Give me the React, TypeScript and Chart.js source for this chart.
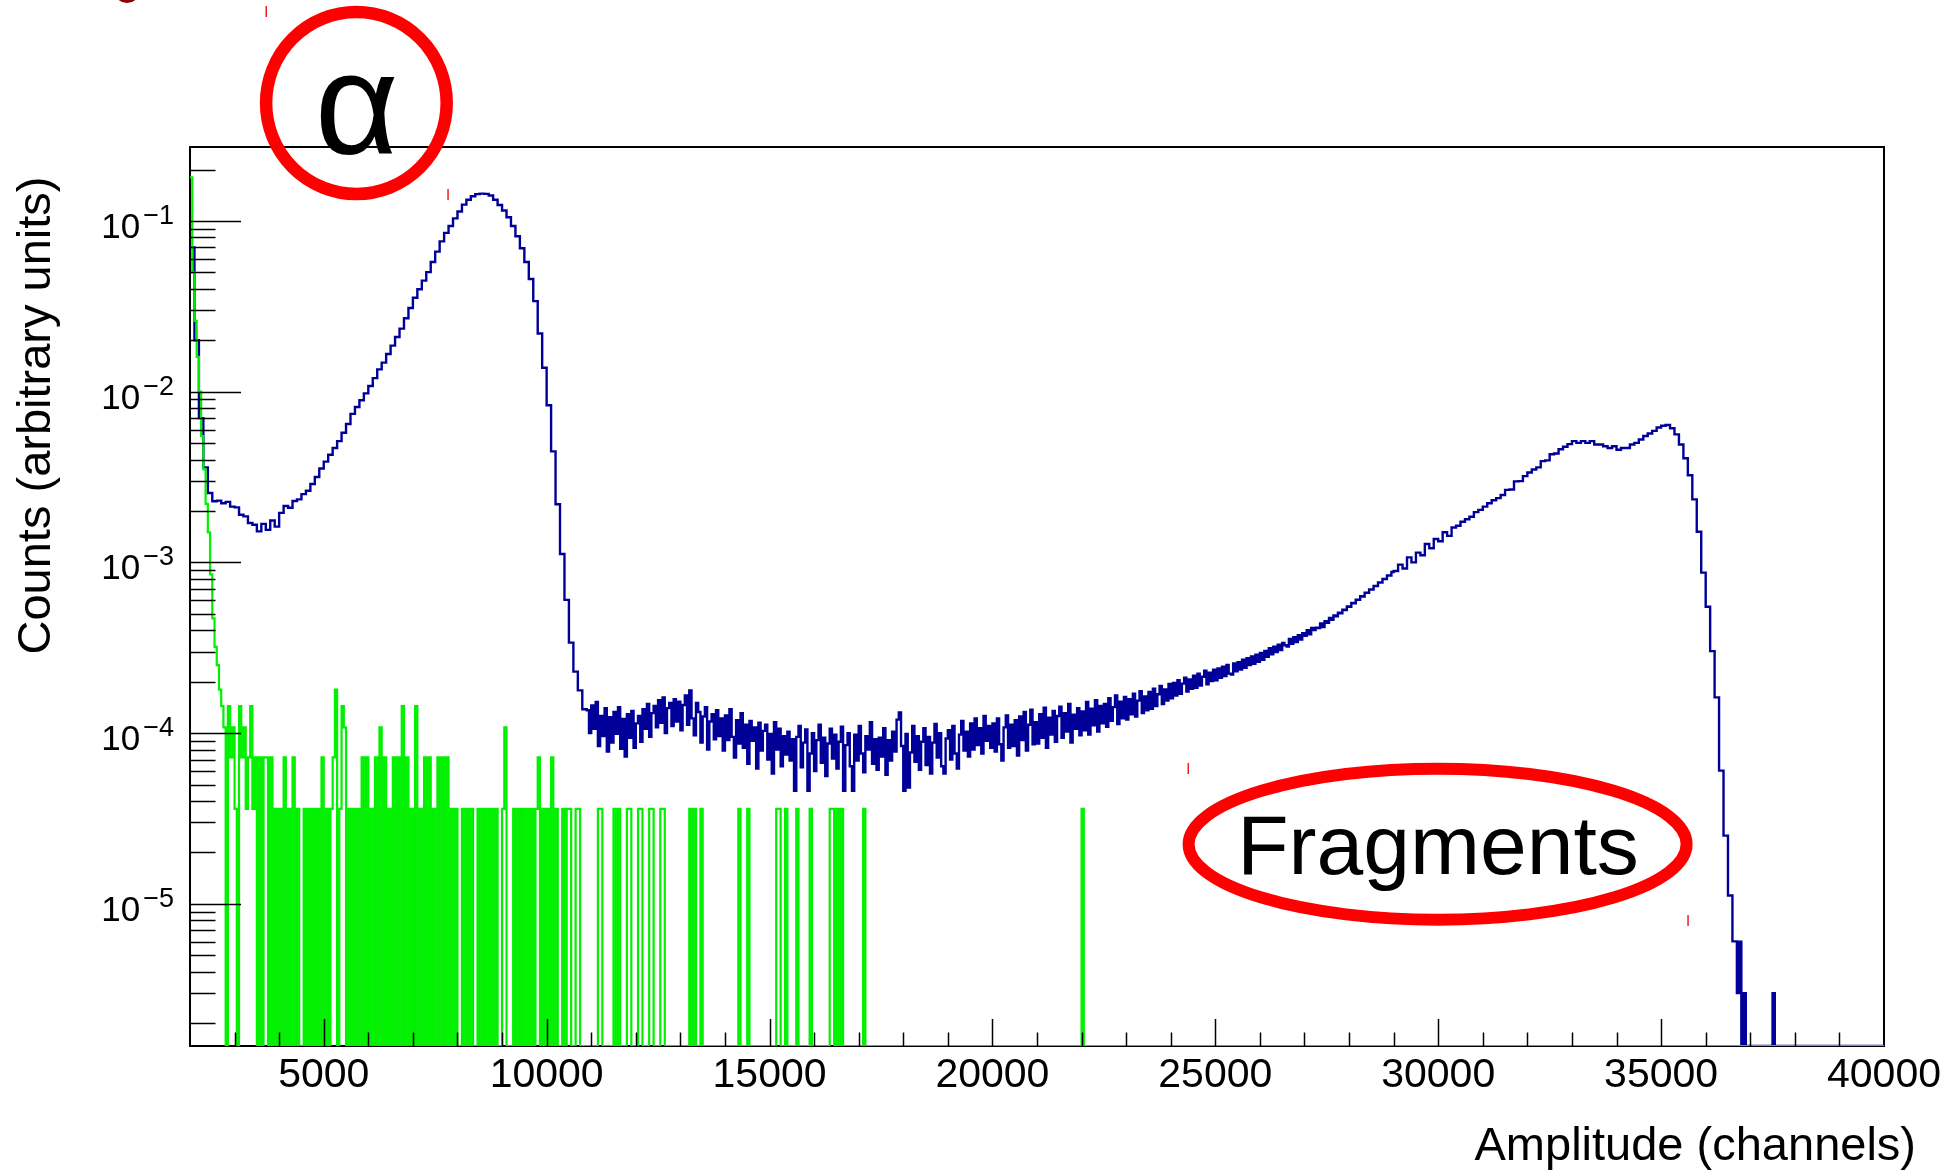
import { useEffect, useRef } from "react";
import { Chart, registerables } from "chart.js";

Chart.register(...registerables);

// ---- axis ranges ----
const X_MIN = 2000;
const X_MAX = 40000;
const Y_MIN = 1.47e-6;
const Y_MAX = 0.271;

// ---- tick definitions ----
const xMinorStep = 1000;
const xMajorStep = 5000;
const xTickLabels = [5000, 10000, 15000, 20000, 25000, 30000, 35000, 40000];
const yLabelPowers = [-5, -4, -3, -2, -1];

// ---- blue spectrum, stored per segment (first channel, bin width, contents) ----
const blueLowTail = [7.0e-2, 2.0e-2, 7.0e-3, 3.6e-3]; // 2000.., 100 ch bins
const blueValley = [ // 2400.., 100 ch bins
  2.55e-3, 2.28e-3, 2.3e-3, 2.22e-3, 2.26e-3, 2.12e-3, 2.1e-3, 1.9e-3, 1.86e-3, 1.7e-3,
  1.66e-3, 1.52e-3, 1.68e-3, 1.55e-3, 1.76e-3, 1.62e-3,
];
const blueAlphaRise = [ // 4000.., 100 ch bins
  1.95e-3, 2.14e-3, 2.09e-3, 2.29e-3, 2.34e-3, 2.51e-3, 2.63e-3, 2.88e-3, 3.16e-3, 3.55e-3,
  3.89e-3, 4.27e-3, 4.68e-3, 5.13e-3, 5.75e-3, 6.46e-3, 7.41e-3, 8.13e-3, 8.91e-3, 9.77e-3,
  1.08e-2, 1.2e-2, 1.35e-2, 1.48e-2, 1.66e-2, 1.86e-2, 2.09e-2, 2.34e-2, 2.69e-2, 3.09e-2,
  3.55e-2, 3.98e-2, 4.47e-2, 5.01e-2, 5.75e-2, 6.61e-2, 7.59e-2, 8.51e-2, 9.33e-2, 0.1035,
  0.1135, 0.1245, 0.133, 0.1396, 0.1435, 0.1445, 0.144, 0.141,
];
const blueAlphaFall = [ // 8800.., 100 ch bins
  0.133, 0.124, 0.115, 0.105, 9.33e-2, 8.13e-2, 6.92e-2, 5.75e-2, 4.57e-2, 3.39e-2,
  2.19e-2, 1.38e-2, 8.32e-3, 4.47e-3, 2.19e-3, 1.12e-3, 6.03e-4, 3.39e-4, 2.29e-4, 1.78e-4,
  1.38e-4,
];
const bluePlateau = [ // 10900.., 50 ch bins
  1.36e-4, 1.0e-4, 1.45e-4, 1.06e-4, 1.52e-4, 8.4e-5, 1.26e-4, 9.6e-5, 1.4e-4, 7.8e-5,
  1.24e-4, 8.8e-5, 1.33e-4, 9.9e-5, 1.42e-4, 8.1e-5, 1.21e-4, 7.3e-5, 1.29e-4, 9.4e-5,
  1.35e-4, 8.2e-5, 1.14e-4, 1.26e-4, 8.9e-5, 1.38e-4, 1.06e-4, 1.48e-4, 9.5e-5, 1.31e-4,
  1.44e-4, 1.08e-4, 1.56e-4, 1.15e-4, 1.62e-4, 1.0e-4, 1.4e-4, 1.5e-4, 1.1e-4, 1.58e-4,
  1.17e-4, 1.53e-4, 1.04e-4, 1.46e-4, 1.66e-4, 1.12e-4, 1.78e-4, 1.22e-4, 9.7e-5, 1.5e-4,
  1.33e-4, 8.8e-5, 1.25e-4, 1.42e-4, 8.0e-5, 1.17e-4, 1.29e-4, 9.2e-5, 1.36e-4, 9.6e-5,
  1.22e-4, 7.9e-5, 1.27e-4, 9.1e-5, 1.38e-4, 9.5e-5, 7.2e-5, 1.19e-4, 8.7e-5, 1.31e-4,
  8.2e-5, 1.12e-4, 6.6e-5, 1.18e-4, 9.0e-5, 1.08e-4, 6.2e-5, 1.15e-4, 7.9e-5, 1.03e-4,
  1.12e-4, 7.0e-5, 9.9e-5, 5.8e-5, 1.16e-4, 8.0e-5, 1.06e-4, 6.4e-5, 9.6e-5, 7.5e-5,
  1.02e-4, 6.9e-5, 9.2e-5, 4.6e-5, 9.5e-5, 1.1e-4, 6.3e-5, 8.8e-5, 1.05e-4, 4.6e-5,
  7.6e-5, 1.0e-4, 6.0e-5, 9.1e-5, 1.12e-4, 6.7e-5, 9.4e-5, 5.6e-5, 8.7e-5, 1.06e-4,
  7.1e-5, 9.8e-5, 6.2e-5, 8.9e-5, 1.09e-4, 4.6e-5, 8.5e-5, 1.0e-4, 6.4e-5, 4.6e-5,
  9.8e-5, 6.9e-5, 1.1e-4, 7.6e-5, 5.9e-5, 9.6e-5, 8.0e-5, 1.16e-4, 6.6e-5, 9.2e-5,
  6.1e-5, 9.4e-5, 7.3e-5, 1.07e-4, 5.7e-5, 9.1e-5, 6.9e-5, 1.02e-4, 7.8e-5, 1.2e-4,
  1.32e-4, 8.4e-5, 4.6e-5, 9.9e-5, 4.8e-5, 7.7e-5, 1.1e-4, 6.8e-5, 9.6e-5, 6.1e-5,
  8.9e-5, 1.07e-4, 6.5e-5, 9.5e-5, 5.8e-5, 8.8e-5, 1.13e-4, 7.2e-5, 1.0e-4, 6.4e-5,
  5.8e-5, 9.3e-5, 1.04e-4, 7.0e-5, 1.1e-4, 7.6e-5, 6.2e-5, 9.8e-5, 1.18e-4, 7.9e-5,
  1.02e-4, 7.3e-5, 1.14e-4, 8.0e-5, 1.22e-4, 8.5e-5, 1.07e-4, 7.6e-5, 1.26e-4, 9.0e-5,
  1.1e-4, 8.2e-5,
];
const blueFragmentRise = [ // 20000.., 50 ch bins
  1.14e-4, 7.8e-5, 1.22e-4, 8.6e-5, 6.9e-5, 1.08e-4, 1.27e-4, 8.2e-5, 1.12e-4, 8.4e-5,
  1.19e-4, 7.4e-5, 1.25e-4, 9.1e-5, 1.33e-4, 7.9e-5, 1.12e-4, 1.37e-4, 8.6e-5, 1.16e-4,
  8.7e-5, 1.29e-4, 9.4e-5, 1.41e-4, 8.2e-5, 1.23e-4, 9.8e-5, 1.35e-4, 8.9e-5, 1.26e-4,
  1.43e-4, 9.4e-5, 1.31e-4, 1.02e-4, 1.48e-4, 8.8e-5, 1.28e-4, 1.06e-4, 1.4e-4, 9.7e-5,
  1.34e-4, 1.04e-4, 1.52e-4, 9.8e-5, 1.39e-4, 1.11e-4, 1.56e-4, 1.02e-4, 1.44e-4, 1.14e-4,
  1.48e-4, 1.09e-4, 1.6e-4, 1.18e-4, 1.42e-4, 1.66e-4, 1.13e-4, 1.53e-4, 1.22e-4, 1.63e-4,
  1.2e-4, 1.58e-4, 1.29e-4, 1.7e-4, 1.25e-4, 1.55e-4, 1.76e-4, 1.31e-4, 1.64e-4, 1.36e-4,
  1.74e-4, 1.39e-4, 1.82e-4, 1.44e-4, 1.69e-4, 1.89e-4, 1.48e-4, 1.8e-4, 1.55e-4, 1.94e-4,
  1.6e-4, 1.97e-4, 1.66e-4, 2.04e-4, 1.7e-4, 1.95e-4, 2.11e-4, 1.75e-4, 2.06e-4, 1.82e-4,
  2.17e-4, 1.84e-4, 2.23e-4, 1.9e-4, 2.14e-4, 2.32e-4, 1.93e-4, 2.26e-4, 2.02e-4, 2.35e-4,
  2.04e-4, 2.39e-4, 2.11e-4, 2.45e-4, 2.16e-4, 2.51e-4, 2.23e-4, 2.2e-4, 2.56e-4, 2.3e-4,
  2.6e-4, 2.36e-4, 2.69e-4, 2.41e-4, 2.75e-4, 2.5e-4, 2.81e-4, 2.55e-4, 2.88e-4, 2.62e-4,
  2.95e-4, 2.69e-4, 3.03e-4, 2.8e-4, 3.14e-4, 2.89e-4, 3.21e-4, 2.98e-4, 3.3e-4, 3.07e-4,
  3.37e-4, 3.27e-4, 3.21e-4, 3.56e-4, 3.33e-4, 3.64e-4, 3.42e-4, 3.75e-4, 3.53e-4, 3.85e-4,
  3.71e-4, 4.01e-4, 3.79e-4, 4.13e-4, 4.01e-4, 4.15e-4, 4.13e-4, 4.39e-4, 4.18e-4, 4.53e-4,
  4.43e-4, 4.72e-4, 4.61e-4, 4.88e-4, 4.83e-4, 5.07e-4, 5.04e-4, 5.29e-4, 5.26e-4, 5.51e-4,
  5.49e-4, 5.79e-4, 5.76e-4, 6.05e-4, 6.03e-4, 6.34e-4, 6.31e-4, 6.64e-4, 6.63e-4, 6.95e-4,
  6.93e-4, 7.27e-4, 7.26e-4, 7.63e-4, 7.61e-4, 7.99e-4, 7.98e-4, 8.38e-4, 8.38e-4, 8.79e-4,
];
const blueFragmentPeak = [ // 29000.., 100 ch bins
  8.91e-4, 9.7e-4, 9.2e-4, 1.07e-3, 1.0e-3, 1.14e-3, 1.1e-3, 1.28e-3, 1.21e-3, 1.37e-3,
  1.33e-3, 1.5e-3, 1.43e-3, 1.6e-3, 1.64e-3, 1.73e-3, 1.79e-3, 1.85e-3, 1.97e-3, 2.03e-3,
  2.12e-3, 2.22e-3, 2.31e-3, 2.38e-3, 2.48e-3, 2.66e-3, 2.67e-3, 2.98e-3, 2.99e-3, 3.2e-3,
  3.36e-3, 3.5e-3, 3.6e-3, 3.92e-3, 3.96e-3, 4.3e-3, 4.34e-3, 4.6e-3, 4.76e-3, 4.93e-3,
  5.13e-3, 5.01e-3, 5.13e-3, 5.01e-3, 5.13e-3, 4.9e-3, 4.9e-3, 4.79e-3, 4.68e-3, 4.79e-3,
  4.57e-3, 4.68e-3, 4.68e-3, 4.9e-3, 5.01e-3, 5.25e-3, 5.5e-3, 5.69e-3, 5.89e-3, 6.17e-3,
  6.31e-3, 6.38e-3, 6.1e-3, 5.62e-3, 4.9e-3, 4.07e-3, 3.24e-3, 2.34e-3, 1.51e-3, 8.71e-4,
  5.5e-4, 3.02e-4, 1.62e-4, 6.03e-5, 2.51e-5, 1.12e-5, 6.03e-6,
];
const blueCutoffTail = [ // 36700.., 50 ch bins
  3.0e-6, 6.0e-6, 0, 3.0e-6, 0, 0, 0, 0, 0, 0, 0, 0, 0, 0, 0, 0, 3.0e-6,
];

const blueSegmentStarts = [2000, 2400, 4000, 8800, 10900, 20000, 29000, 36700];
const blueSegmentBins = [100, 100, 100, 100, 50, 50, 100, 50];
const blueSegments = [
  blueLowTail, blueValley, blueAlphaRise, blueAlphaFall,
  bluePlateau, blueFragmentRise, blueFragmentPeak, blueCutoffTail,
];

// ---- green spectrum: 50-channel bins starting at 2000 ----
const GREEN_START = 2000;
const GREEN_BIN = 50;
const greenHead = [
  0.18, 5.0e-2, 2.6e-2, 1.6e-2, 1.0e-2, 5.5e-3, 3.5e-3, 2.2e-3, 1.5e-3, 8.5e-4,
  4.7e-4, 3.2e-4, 2.5e-4, 1.8e-4,
];
const greenCountUnit = 3.6e-5;
// counts per bin from 2700 up to 10750
const greenDenseCounts = [
  4, 3, 0, 4, 2, 3, 1, 0, 4, 2,
  3, 1, 2, 4, 1, 2, 0, 2, 0, 2,
  2, 0, 2, 0, 1, 0, 1, 0, 2, 0,
  1, 0, 2, 0, 1, 0, 0, 1, 0, 1,
  0, 1, 0, 1, 0, 2, 0, 1, 0, 1,
  2, 5, 0, 1, 4, 3, 0, 1, 0, 1,
  0, 1, 0, 2, 0, 2, 0, 1, 0, 2,
  0, 3, 0, 2, 0, 1, 0, 2, 0, 2,
  0, 4, 0, 2, 0, 1, 0, 4, 0, 1,
  0, 2, 0, 2, 0, 1, 0, 2, 0, 2,
  0, 2, 0, 1, 0, 1, 0, 0, 1, 0,
  1, 0, 1, 0, 0, 1, 0, 1, 0, 1,
  0, 1, 0, 1, 0, 0, 1, 3, 0, 0,
  0, 1, 0, 1, 0, 1, 0, 1, 0, 1,
  0, 1, 2, 0, 1, 0, 1, 0, 2, 0,
  1, 0, 0, 1, 0, 1, 1, 0, 0, 1,
  1, 0,
];
// single-count bins further out
const greenSparseHits = [
  11150, 11200, 11500, 11600, 11800, 11850, 12050, 12100, 12300, 12350,
  12550, 12600, 13200, 13300, 13450, 14300, 14500, 15150, 15200, 15350,
  15600, 15900, 16350, 16400, 16500, 16600, 17100, 22000,
];

const FONT = '"Liberation Sans", Arial, Helvetica, sans-serif';

type Pt = { x: number; y: number };

function buildBlue(): Pt[] {
  const pts: Pt[] = [];
  blueSegments.forEach((vals, s) => {
    vals.forEach((v, i) => {
      const x = blueSegmentStarts[s] + i * blueSegmentBins[s];
      pts.push({ x, y: v > 0 ? v : Y_MIN });
    });
  });
  const last = blueSegments.length - 1;
  const tailEnd = blueSegmentStarts[last] + blueSegments[last].length * blueSegmentBins[last];
  pts.push({ x: tailEnd, y: Y_MIN });
  pts.push({ x: X_MAX, y: Y_MIN });
  return pts;
}

function buildGreen(): Pt[] {
  const nBins = Math.round((X_MAX - GREEN_START) / GREEN_BIN);
  const pts: Pt[] = [];
  for (let i = 0; i < nBins; i++) {
    const x = GREEN_START + i * GREEN_BIN;
    let v: number;
    if (i < greenHead.length) {
      v = greenHead[i];
    } else {
      const j = i - greenHead.length;
      const c = j < greenDenseCounts.length ? greenDenseCounts[j] : greenSparseHits.includes(x) ? 1 : 0;
      v = c * greenCountUnit;
    }
    pts.push({ x, y: v > 0 ? v : Y_MIN });
  }
  pts.push({ x: X_MAX, y: Y_MIN });
  return pts;
}

// frame, inward ticks, labels, titles and the hand-drawn markings
const framePlugin = {
  id: "rootFrame",
  beforeDatasetsDraw(chart: any) {
    const { ctx, chartArea: a } = chart;
    ctx.save();
    ctx.strokeStyle = "#000";
    ctx.lineWidth = 2;
    ctx.strokeRect(a.left, a.top, a.right - a.left, a.bottom - a.top);
    ctx.restore();
  },
  afterDatasetsDraw(chart: any) {
    const { ctx, chartArea: a } = chart;
    const xs = chart.scales.x;
    const ys = chart.scales.y;
    ctx.save();
    ctx.strokeStyle = "#000";
    ctx.lineWidth = 1.5;

    // x ticks
    for (let v = X_MIN + xMinorStep; v < X_MAX; v += xMinorStep) {
      const px = Math.round(xs.getPixelForValue(v)) + 0.5;
      const len = v % xMajorStep === 0 ? 27 : 13.5;
      ctx.beginPath();
      ctx.moveTo(px, a.bottom);
      ctx.lineTo(px, a.bottom - len);
      ctx.stroke();
    }
    // y ticks (log decades with 2..9 subdivisions)
    for (let p = -6; p <= 0; p++) {
      for (let k = 1; k <= 9; k++) {
        const v = k * Math.pow(10, p);
        if (v <= Y_MIN || v >= Y_MAX) continue;
        const py = Math.round(ys.getPixelForValue(v)) + 0.5;
        const len = k === 1 ? 51 : 25.5;
        ctx.beginPath();
        ctx.moveTo(a.left, py);
        ctx.lineTo(a.left + len, py);
        ctx.stroke();
      }
    }

    ctx.fillStyle = "#000";
    // x tick labels
    ctx.font = `41px ${FONT}`;
    ctx.textAlign = "center";
    ctx.textBaseline = "alphabetic";
    for (const v of xTickLabels) {
      ctx.fillText(String(v), xs.getPixelForValue(v), a.bottom + 41);
    }
    // y tick labels: 10 with a superscript exponent
    for (const p of yLabelPowers) {
      const py = ys.getPixelForValue(Math.pow(10, p));
      const sup = "\u2212" + Math.abs(p);
      ctx.font = `27px ${FONT}`;
      const wSup = ctx.measureText(sup).width;
      ctx.font = `35px ${FONT}`;
      const wBase = ctx.measureText("10").width;
      const right = a.left - 16;
      ctx.textAlign = "left";
      ctx.fillText("10", right - wSup - 3 - wBase, py + 17);
      ctx.font = `27px ${FONT}`;
      ctx.fillText(sup, right - wSup, py + 3);
    }

    // axis titles
    ctx.font = `47px ${FONT}`;
    ctx.textAlign = "right";
    ctx.fillText("Amplitude (channels)", 1916, 1160);
    ctx.save();
    ctx.translate(50, 415.5);
    ctx.rotate(-Math.PI / 2);
    ctx.textAlign = "center";
    ctx.fillText("Counts (arbitrary units)", 0, 0);
    ctx.restore();

    // alpha marker
    ctx.strokeStyle = "#ff0000";
    ctx.lineWidth = 12.5;
    ctx.beginPath();
    ctx.ellipse(356.4, 103, 90.3, 91, 0, 0, Math.PI * 2);
    ctx.stroke();
    ctx.fillStyle = "#000";
    ctx.font = `145px ${FONT}`;
    ctx.textAlign = "center";
    ctx.fillText("\u03b1", 356.7, 154);

    // fragments marker
    ctx.strokeStyle = "#ff0000";
    ctx.lineWidth = 12;
    ctx.beginPath();
    ctx.ellipse(1437.6, 844.2, 249, 75.5, 0, 0, Math.PI * 2);
    ctx.stroke();
    ctx.fillStyle = "#000";
    ctx.font = `84px ${FONT}`;
    ctx.fillText("Fragments", 1438, 874);

    // selection handles
    ctx.fillStyle = "rgb(240,30,30)";
    ctx.fillRect(265.5, 6, 1.5, 11);
    ctx.fillRect(447.3, 189, 1.5, 11);
    ctx.fillRect(1187.5, 763, 1.5, 11);
    ctx.fillRect(1687.3, 915, 1.5, 11);

    // partial mark at the top edge
    ctx.fillStyle = "#8b0000";
    ctx.beginPath();
    ctx.ellipse(127, -12, 14, 15, 0, 0, Math.PI * 2);
    ctx.fill();

    ctx.restore();
  },
};

export default function App() {
  const canvasRef = useRef<HTMLCanvasElement | null>(null);

  useEffect(() => {
    document.body.style.margin = "0";
    const canvas = canvasRef.current;
    if (!canvas) return;
    const chart = new Chart(canvas, {
      type: "line",
      data: {
        datasets: [
          {
            label: "green",
            data: buildGreen(),
            stepped: true,
            borderColor: "#00f000",
            borderWidth: 2.2,
            pointRadius: 0,
            fill: false,
          },
          {
            label: "blue",
            data: buildBlue(),
            stepped: true,
            borderColor: "#000099",
            borderWidth: 2.4,
            pointRadius: 0,
            fill: false,
            clip: { left: 1, right: 1, top: 1, bottom: 0 },
          },
        ],
      },
      options: {
        responsive: false,
        maintainAspectRatio: false,
        animation: false,
        devicePixelRatio: 1,
        events: [],
        layout: { padding: { left: 190, right: 76, top: 147, bottom: 126 } },
        plugins: { legend: { display: false }, tooltip: { enabled: false } },
        scales: {
          x: { type: "linear", min: X_MIN, max: X_MAX, display: false, bounds: "data" },
          y: { type: "logarithmic", min: Y_MIN, max: Y_MAX, display: false, bounds: "data" },
        },
      },
      plugins: [framePlugin],
    });
    return () => chart.destroy();
  }, []);

  return (
    <canvas
      ref={canvasRef}
      width={1960}
      height={1172}
      style={{ display: "block", width: 1960, height: 1172 }}
    />
  );
}
